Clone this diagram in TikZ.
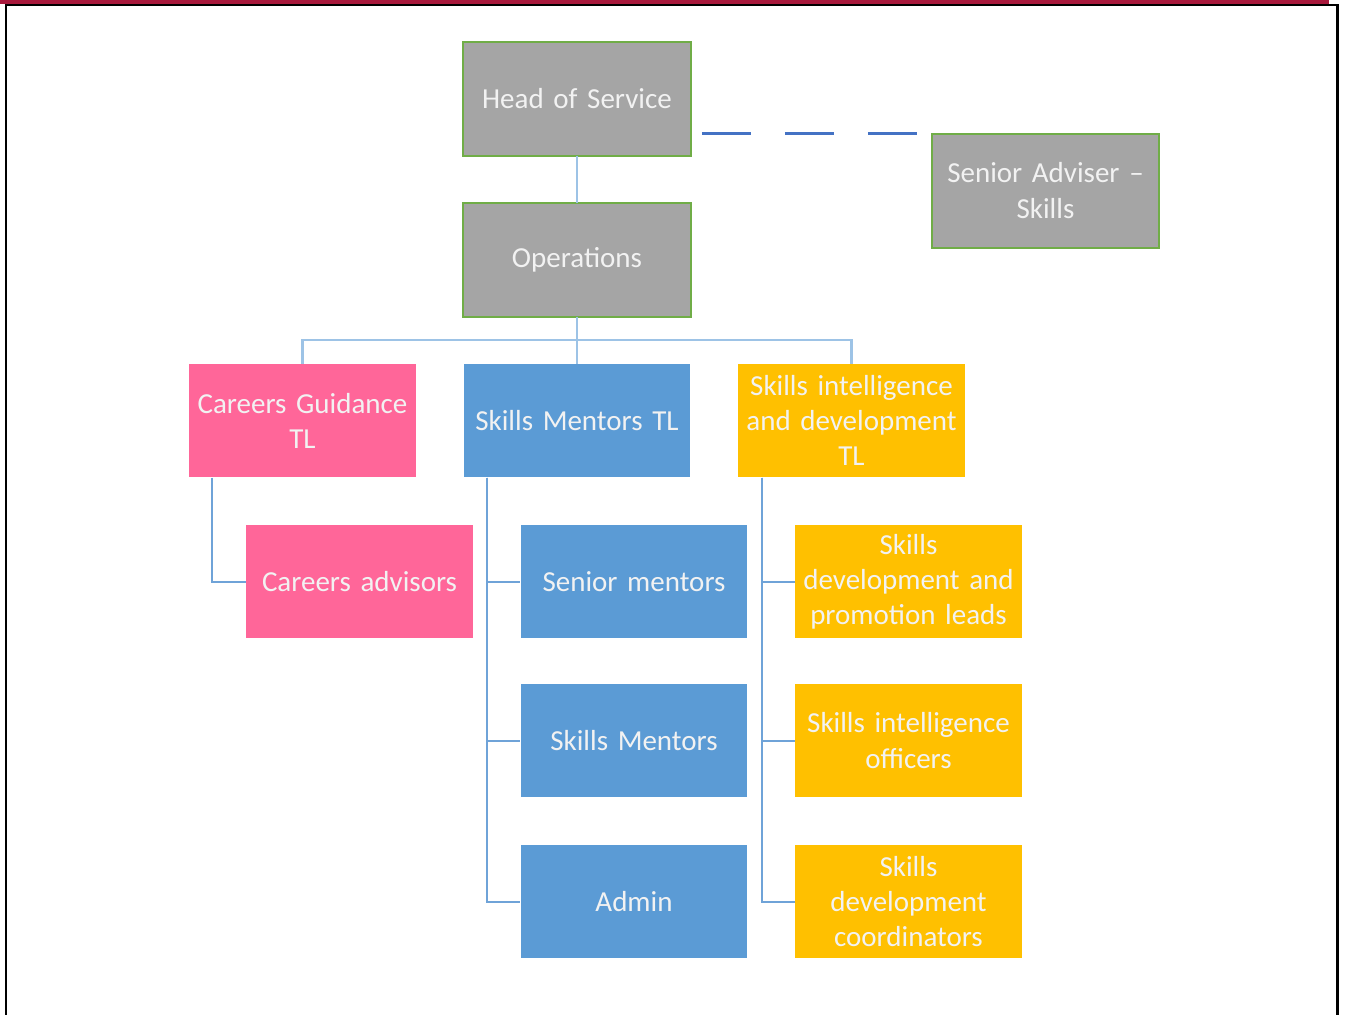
\documentclass[tikz,border=0pt]{standalone}
\usepackage{fontspec}
\setmainfont{Carlito}
\usetikzlibrary{positioning}

\definecolor{boxgray}{HTML}{A5A5A5}
\definecolor{boxgreen}{HTML}{70AD47}
\definecolor{boxpink}{HTML}{FF6699}
\definecolor{boxblue}{HTML}{5B9BD5}
\definecolor{boxgold}{HTML}{FFC000}
\definecolor{linklight}{HTML}{9DC3E6}
\definecolor{linkmid}{HTML}{6FA3D8}
\definecolor{dashblue}{HTML}{4472C4}
\definecolor{barred}{HTML}{A8193C}

\tikzset{
  box/.style={rectangle, minimum width=4.55cm, minimum height=2.28cm,
    text width=4.45cm, align=center, text=white!95!black,
    font=\fontsize{16.5}{20}\selectfont, inner sep=0pt, outer sep=0pt},
  mgr/.style={box, fill=boxgray, draw=boxgreen, line width=0.04cm},
  careers/.style={box, fill=boxpink, draw=white, line width=0.02cm},
  mentors/.style={box, fill=boxblue, draw=white, line width=0.02cm},
  intel/.style={box, fill=boxgold, draw=white, line width=0.02cm},
  bus/.style={draw=linklight, line width=0.045cm},
  link/.style={draw=linkmid, line width=0.04cm},
  adviserline/.style={draw=dashblue, line width=0.06cm, dash pattern=on 0.98cm off 0.68cm},
}

\begin{document}
\begin{tikzpicture}[node distance=0.94cm]

  \useasboundingbox (0,0) rectangle (26.9,-20.28);

  % Page frame
  \fill[barred] (0,0) rectangle (26.58,-0.08);
  \draw[black, line width=0.05cm] (0.12,-20.5) |- (26.75,-0.1) -- (26.75,-20.5);

  % Define nodes
  \node[mgr] at (11.54,-1.97)                  (head) {Head of Service};
  \node[mgr, below=of head]                    (ops)  {Operations};
  \node[mgr, right=4.82cm of head, yshift=-1.84cm] (sa) {Senior Adviser --\\Skills};

  \node[mentors, below=of ops]                 (smtl) {Skills Mentors TL};
  \node[careers, left=of smtl]                 (cgtl) {Careers Guidance\\TL};
  \node[intel, right=of smtl]                  (sitl) {Skills intelligence\\and development\\TL};

  \node[careers, below=of cgtl, xshift=1.14cm] (ca)   {Careers advisors};
  \node[mentors, below=of smtl, xshift=1.14cm] (sm)   {Senior mentors};
  \node[mentors, below=0.9cm of sm]            (ment) {Skills Mentors};
  \node[mentors, below=of ment]                (adm)  {Admin};
  \node[intel, below=of sitl, xshift=1.14cm]   (sdpl) {Skills\\development and\\promotion leads};
  \node[intel, below=0.9cm of sdpl]            (sio)  {Skills intelligence\\officers};
  \node[intel, below=of sio]                   (sdc)  {Skills\\development\\coordinators};

  % Connect the nodes
  \draw[bus] (head) -- (ops);
  \draw[bus] (ops) -- (smtl);
  \draw[bus] (cgtl.north) -- ++(0,0.47) -| (sitl.north);
  \draw[adviserline] ([xshift=0.22cm]head.east |- sa.north) -- ([xshift=-0.28cm]sa.west |- sa.north);

  \draw[link] ([xshift=0.47cm]cgtl.south west) |- (ca.west);
  \draw[link] ([xshift=0.48cm]smtl.south west) |- (sm.west);
  \draw[link] ([xshift=0.48cm]smtl.south west) |- (ment.west);
  \draw[link] ([xshift=0.48cm]smtl.south west) |- (adm.west);
  \draw[link] ([xshift=0.48cm]sitl.south west) |- (sdpl.west);
  \draw[link] ([xshift=0.48cm]sitl.south west) |- (sio.west);
  \draw[link] ([xshift=0.48cm]sitl.south west) |- (sdc.west);

\end{tikzpicture}
\end{document}
